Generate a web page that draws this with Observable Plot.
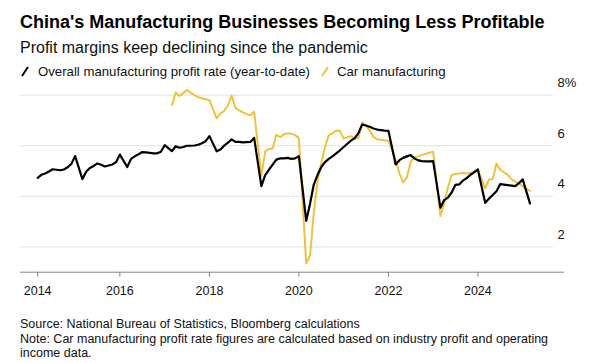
<!DOCTYPE html>
<html>
<head>
<meta charset="utf-8">
<script src="https://cdn.jsdelivr.net/npm/d3@7"></script>
<script src="https://cdn.jsdelivr.net/npm/@observablehq/plot@0.6"></script>
<style>
  html, body { margin: 0; padding: 0; background: #fff; }
  body { width: 595px; height: 363px; overflow: hidden; position: relative;
         font-family: "Liberation Sans", Arial, Helvetica, sans-serif; color: #000; }
  .abs { position: absolute; white-space: nowrap; }
  #title { left: 20px; top: 12.8px; font-size: 18px; line-height: 18px; font-weight: bold; }
  #subtitle { left: 20px; top: 39.5px; font-size: 16px; line-height: 16px; color: #111; }
  .leg { top: 64.8px; font-size: 13.2px; line-height: 13.2px; color: #111; }
  .icon { position: absolute; top: 66px; }
  #chart { position: absolute; left: 0; top: 80px; }
  #footer { left: 20px; top: 317.4px; font-size: 12.5px; line-height: 14.5px; color: #111; }
</style>
</head>
<body>
<div id="title" class="abs">China's Manufacturing Businesses Becoming Less Profitable</div>
<div id="subtitle" class="abs">Profit margins keep declining since the pandemic</div>
<svg class="icon" style="left:21px" width="8" height="11"><line x1="1" y1="10" x2="7" y2="1" stroke="#000" stroke-width="2"/></svg>
<div class="abs leg" style="left:38px">Overall manufacturing profit rate (year-to-date)</div>
<svg class="icon" style="left:321px" width="8" height="11"><line x1="1" y1="10" x2="7" y2="1" stroke="#f2c13c" stroke-width="2"/></svg>
<div class="abs leg" style="left:337px">Car manufacturing</div>
<div id="chart"></div>
<div id="footer" class="abs">Source: National Bureau of Statistics, Bloomberg calculations<br>Note: Car manufacturing profit rate figures are calculated based on industry profit and operating<br>income data.</div>
<script>
// Monthly year-to-date readings, Feb..Dec of each year (Jan is combined with Feb)
const reportMonths = [2, 3, 4, 5, 6, 7, 8, 9, 10, 11, 12];
const overallStartYear = 2014;
const overallValues = [
  4.73, 4.85, 4.90, 4.98, 5.07, 5.05, 5.03, 5.06, 5.15, 5.28, 5.59, // 2014
  4.68, 4.97, 5.12, 5.20, 5.30, 5.25, 5.18, 5.22, 5.26, 5.35, 5.65, // 2015
  5.16, 5.48, 5.58, 5.66, 5.75, 5.74, 5.72, 5.70, 5.70, 5.76, 6.02, // 2016
  5.79, 5.98, 5.92, 5.95, 6.00, 6.00, 6.01, 6.04, 6.10, 6.18, 6.38, // 2017
  5.78, 5.85, 6.00, 6.12, 6.25, 6.15, 6.15, 6.13, 6.14, 6.15, 6.31, // 2018
  4.40, 4.84, 5.05, 5.25, 5.45, 5.50, 5.50, 5.52, 5.48, 5.50, 5.59, // 2019
  3.03, 3.70, 4.45, 4.84, 5.15, 5.35, 5.48, 5.58, 5.70, 5.82, 5.95, // 2020
  6.20, 6.30, 6.50, 6.84, 6.80, 6.75, 6.68, 6.64, 6.62, 6.60, 6.59, // 2021
  5.26, 5.43, 5.52, 5.58, 5.63, 5.50, 5.42, 5.39, 5.38, 5.38, 5.39, // 2022
  3.55, 3.85, 3.95, 4.15, 4.45, 4.47, 4.62, 4.72, 4.85, 4.95, 5.06, // 2023
  3.74, 3.91, 4.05, 4.20, 4.48, 4.46, 4.44, 4.42, 4.40, 4.52, 4.67, // 2024
  3.72                                                              // 2025 Feb
];
const carStartYear = 2017;
const carValues = [
  7.60, 8.10, 7.97, 8.08, 8.20, 8.10, 8.00, 7.92, 7.88, 7.84, 7.80, // 2017
  7.08, 7.28, 7.38, 7.60, 7.98, 7.50, 7.40, 7.32, 7.25, 7.20, 7.34, // 2018
  4.82, 5.78, 5.87, 5.89, 6.43, 6.34, 6.45, 6.48, 6.48, 6.42, 6.30, // 2019
  1.35, 1.65, 3.30, 4.60, 5.30, 5.95, 6.42, 6.48, 6.60, 6.58, 6.28, // 2020
  6.38, 6.28, 6.30, 6.92, 6.80, 6.60, 6.35, 6.26, 6.24, 6.22, 6.20, // 2021
  5.45, 4.90, 4.55, 4.75, 5.35, 5.55, 5.58, 5.63, 5.68, 5.72, 5.76, // 2022
  3.22, 3.72, 4.35, 4.84, 4.88, 4.90, 4.93, 4.90, 4.93, 4.97, 5.06, // 2023
  4.31, 4.67, 4.67, 5.30, 5.05, 4.95, 4.85, 4.68, 4.58, 4.50, 4.40, // 2024
  4.21                                                              // 2025 Feb
];
const xTickYears = [2014, 2016, 2018, 2020, 2022, 2024];
const yTicks = [2, 4, 6, 8];

// each reading is plotted at the end of its month
function toSeries(startYear, values) {
  return values.map((v, i) => {
    const year = startYear + Math.floor(i / reportMonths.length);
    const month = reportMonths[i % reportMonths.length];
    return {date: new Date(Date.UTC(year, month, 1)), value: v};
  });
}
const overall = toSeries(overallStartYear, overallValues);
const car = toSeries(carStartYear, carValues);
// first tick sits at the first reading, the others on Jan 1
const xTickDates = xTickYears.map((y, i) => i === 0 ? overall[0].date : new Date(Date.UTC(y, 0, 1)));

const chart = Plot.plot({
  width: 595,
  height: 222,
  marginLeft: 20,
  marginRight: 31,
  marginTop: 2,
  marginBottom: 30.3,
  style: {fontFamily: "'Liberation Sans', Arial, sans-serif", fontSize: "12.5px", background: "transparent", overflow: "visible", color: "#111"},
  x: {type: "utc", label: null, domain: [new Date(Date.UTC(2013, 9, 12)), new Date(Date.UTC(2025, 11, 8))]},
  y: {label: null, domain: [1, 8.5]},
  marks: [
    Plot.ruleY(yTicks, {stroke: "#e1e1e1", strokeWidth: 1, insetRight: 11}),
    Plot.ruleY([1], {stroke: "#858585", strokeWidth: 1}),
    Plot.axisX({ticks: xTickDates, label: null, tickFormat: d => String(d.getUTCFullYear()), tickSize: 5, tickPadding: 8.5, stroke: "#858585", fill: "#111", fontSize: 12.5}),
    Plot.axisY({anchor: "right", label: null, ticks: yTicks, tickSize: 0, tickPadding: -7, dy: -12, fontSize: 13, fill: "#111",
      tickFormat: d => d === 8 ? "8%" : String(d)}),
    Plot.line(car, {x: "date", y: "value", stroke: "#f2c13c", strokeWidth: 2, strokeLinejoin: "round"}),
    Plot.line(overall, {x: "date", y: "value", stroke: "#000", strokeWidth: 2.2, strokeLinejoin: "round"})
  ]
});
document.getElementById("chart").appendChild(chart);
</script>
</body>
</html>
